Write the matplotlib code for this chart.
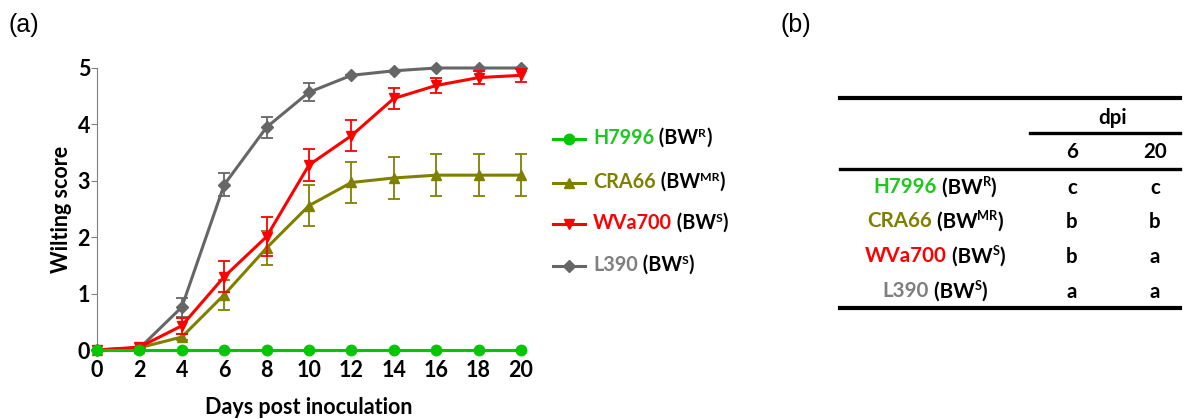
import matplotlib
matplotlib.use("Agg")
import matplotlib.pyplot as plt
from matplotlib.lines import Line2D

plt.rcParams['font.family'] = ['Lato', 'DejaVu Sans']
plt.rcParams['font.weight'] = 'bold'

# data
days = [0, 2, 4, 6, 8, 10, 12, 14, 16, 18, 20]
h7996 = [0, 0, 0, 0, 0, 0, 0, 0, 0, 0, 0]
h7996_err = [0, 0, 0, 0, 0, 0, 0, 0, 0, 0, 0]
cra66 = [0, 0.04, 0.23, 0.98, 1.81, 2.56, 2.97, 3.05, 3.10, 3.10, 3.10]
cra66_err = [0, 0, 0.05, 0.27, 0.30, 0.37, 0.37, 0.37, 0.37, 0.37, 0.37]
wva700 = [0, 0.05, 0.43, 1.30, 2.01, 3.28, 3.80, 4.46, 4.69, 4.83, 4.87]
wva700_err = [0, 0, 0.14, 0.28, 0.34, 0.29, 0.27, 0.19, 0.14, 0.12, 0.12]
l390 = [0, 0.03, 0.76, 2.93, 3.95, 4.57, 4.87, 4.95, 5.0, 5.0, 5.0]
l390_err = [0, 0, 0.17, 0.20, 0.19, 0.16, 0, 0, 0, 0, 0]

names = ['H7996', 'CRA66', 'WVa700', 'L390']
supers = ['R', 'MR', 'S', 'S']
colors = ['#00c800', '#808000', '#ff0000', '#666666']
name_colors = ['#1ec81e', '#808000', '#ff0000', '#7f7f7f']
markers = ['o', '^', 'v', 'D']
msizes = [7.5, 7.5, 7.5, 6]
dpi_cols = ['6', '20']
letters = [['c', 'c'], ['b', 'b'], ['b', 'a'], ['a', 'a']]

W, H = 1187, 419
fig = plt.figure(figsize=(W / 100, H / 100), dpi=100)
ax = fig.add_axes([97 / W, 1 - 350 / H, 424 / W, 282 / H])
r = fig.canvas.get_renderer()

series = [(h7996, h7996_err), (cra66, cra66_err), (wva700, wva700_err), (l390, l390_err)]
zorders = [6, 4, 5, 3]
for i in range(4):
    y, e = series[i]
    ax.errorbar(days, y, yerr=e, color=colors[i], marker=markers[i], markersize=msizes[i],
                lw=2.2, elinewidth=1.3, capsize=4, capthick=1.3, clip_on=False, zorder=zorders[i])

ax.set_xlim(0, 20)
ax.set_ylim(0, 5)
ax.set_xticks(days)
ax.set_yticks(range(6))
ax.spines['top'].set_visible(False)
ax.spines['right'].set_visible(False)
ax.spines['bottom'].set_visible(False)
ax.spines['left'].set_color('#808080')
ax.tick_params(axis='x', length=0, pad=7, labelsize=15.5)
ax.tick_params(axis='y', length=4, color='#808080', pad=1, labelsize=15.5)
ax.set_xlabel('Days post inoculation', fontsize=15.5, fontweight='bold', labelpad=12)
ax.set_ylabel('Wilting score', fontsize=15.5, fontweight='bold', labelpad=4)

fig.text(8 / W, 1 - 25 / H, '(a)', fontsize=18, family='Liberation Sans', weight='normal', va='center')
fig.text(780 / W, 1 - 25 / H, '(b)', fontsize=18, family='Liberation Sans', weight='normal', va='center')


def rich_label(x, y, name, color, sup, fs, centre=False):
    # name in colour, then (BW^sup) in black; x, y in pixels from top-left
    yb = H - y - fs * 0.36  # baseline in figure pixels
    pieces = [(name, color, fs, 0), (' (BW', 'black', fs, 0), (sup, 'black', fs * 0.62, fs * 0.5),
              (')', 'black', fs, 0)]
    texts = []
    xc = x
    for s, c, size, rise in pieces:
        t = fig.text(xc / W, (yb + rise) / H, s, color=c, fontsize=size, fontweight='bold',
                     va='baseline', ha='left')
        xc = t.get_window_extent(r).x1
        texts.append(t)
    if centre:
        shift = (xc - x) / 2
        for t in texts:
            px, py = t.get_position()
            t.set_position((px - shift / W, py))


legend_rows = [139, 183, 224, 266]
for i in range(4):
    yy = legend_rows[i]
    fig.add_artist(Line2D([553 / W, 569 / W, 585 / W], [1 - yy / H] * 3, color=colors[i], lw=2.2,
                          marker=markers[i], markersize=msizes[i], markevery=[1]))
    rich_label(593, yy, names[i], name_colors[i], supers[i], 14.2)

# table
tab_rows = [188, 222, 257, 292]
col_x = [1072, 1155]
for i in range(4):
    rich_label(935, tab_rows[i], names[i], name_colors[i], supers[i], 14.8, centre=True)
    for j in range(2):
        fig.text(col_x[j] / W, 1 - tab_rows[i] / H, letters[i][j], fontsize=14.8,
                 fontweight='bold', ha='center', va='center')
fig.text(1113 / W, 1 - 118 / H, 'dpi', fontsize=14.8, fontweight='bold', ha='center', va='center')
for j in range(2):
    fig.text(col_x[j] / W, 1 - 152 / H, dpi_cols[j], fontsize=14.8, fontweight='bold',
             ha='center', va='center')

for (x1, x2, yy, lw) in [(840, 1180, 98, 3), (1030, 1180, 133, 2.4), (840, 1180, 169, 2.4),
                         (840, 1180, 308, 3)]:
    fig.add_artist(Line2D([x1 / W, x2 / W], [1 - yy / H] * 2, color='black', lw=lw))

fig.savefig('out.png', dpi=100)
